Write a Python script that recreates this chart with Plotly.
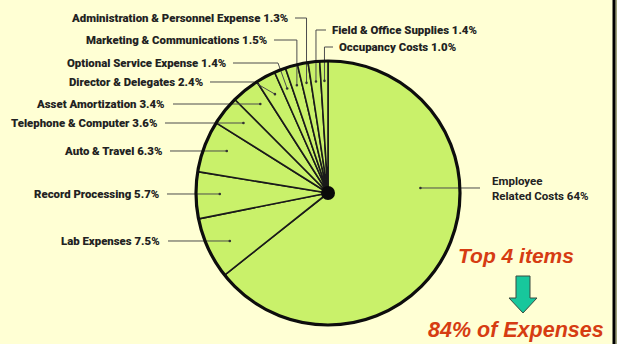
import math
import plotly.graph_objects as go

# ---------------- data ----------------
categories = ["Employee Related Costs", "Lab Expenses", "Record Processing", "Auto & Travel",
              "Telephone & Computer", "Asset Amortization", "Director & Delegates",
              "Optional Service Expense", "Marketing & Communications",
              "Administration & Personnel Expense", "Field & Office Supplies", "Occupancy Costs"]
shares = [64, 7.5, 5.7, 6.3, 3.6, 3.4, 2.4, 1.4, 1.5, 1.3, 1.4, 1.0]
share_text = ["64%", "7.5%", "5.7%", "6.3%", "3.6%", "3.4%", "2.4%", "1.4%", "1.5%", "1.3%", "1.4%", "1.0%"]
callout_top = "Top 4 items"
callout_bottom = "84% of Expenses"

# ---------------- layout (pixels) ----------------
W, H = 617, 344
CX, CY, R = 328, 193, 132
# label placement: (mode, anchor_x, anchor_y, elbow_x)
label_layout = [
    ("emp", 490, 188, None),
    ("left", 162, 241, None),
    ("left", 161, 194, None),
    ("left", 164, 151, None),
    ("left", 159, 123, None),
    ("left", 167, 104, None),
    ("elbow", 205, 82, 254),
    ("elbow", 228, 63, 278),
    ("up", 269, 40, None),
    ("up", 290, 18, None),
    ("upright", 330, 30, None),
    ("upright", 337, 47, None),
]

BG = "#FFFFD4"
GREEN = "#C9F16A"
TXT = "#222222"
FONT = "Roboto, Liberation Sans, sans-serif"


def px(x):
    return x / W


def py(y):
    return 1 - y / H


fig = go.Figure()
fig.add_trace(go.Pie(
    labels=categories, values=shares, sort=False, direction="clockwise", rotation=0,
    textinfo="none", hoverinfo="skip", showlegend=False,
    marker=dict(colors=[GREEN] * len(shares), line=dict(color="#1a1a1a", width=1.6)),
    domain=dict(x=[px(CX - R), px(CX + R)], y=[py(CY + R), py(CY - R)]),
))

shapes = []
annotations = []
total = sum(shares)
cum = 0.0
for i, v in enumerate(shares):
    mid = (cum + v / 2) / total * 2 * math.pi
    cum += v
    mode, ax, ay, ex = label_layout[i]
    rr = (0.82 if mode == "left" else 0.85) * R
    dx = CX + rr * math.sin(mid)
    dy = CY - rr * math.cos(mid)
    if mode == "emp":
        dx, dy = CX + 0.70 * R, ay
        pts = [(dx, dy), (ax - 10, ay)]
        annotations.append(dict(x=px(ax), y=py(ay), xref="paper", yref="paper", xanchor="left",
                                yanchor="middle", align="left", showarrow=False,
                                text="Employee<br>Related Costs " + share_text[i],
                                font=dict(family=FONT, size=11.5, color=TXT, weight=700)))
    else:
        if mode == "left":
            dy = ay
            pts = [(dx, dy), (ax + 6, ay)]
        elif mode == "elbow":
            pts = [(dx, dy), (ex, ay), (ax + 5, ay)]
        elif mode == "up":
            pts = [(dx, dy), (dx, ay), (ax + 5, ay)]
        else:
            pts = [(dx, dy), (dx, ay), (ax - 4, ay)]
        right = mode != "upright"
        annotations.append(dict(x=px(ax), y=py(ay), xref="paper", yref="paper",
                                xanchor="right" if right else "left", yanchor="middle",
                                showarrow=False,
                                text=categories[i] + " " + share_text[i],
                                font=dict(family=FONT, size=11.4, color=TXT, weight=900)))
    path = "M " + " L ".join(f"{px(x):.5f},{py(y):.5f}" for x, y in pts)
    shapes.append(dict(type="path", path=path, xref="paper", yref="paper",
                       line=dict(color="#4d4d4d", width=1)))
    shapes.append(dict(type="circle", xref="paper", yref="paper",
                       x0=px(dx - 1.3), x1=px(dx + 1.3), y0=py(dy + 1.3), y1=py(dy - 1.3),
                       fillcolor="#333333", line=dict(width=0)))

# thick outer rim and centre hub
shapes.append(dict(type="circle", xref="paper", yref="paper",
                   x0=px(CX - R), x1=px(CX + R), y0=py(CY + R), y1=py(CY - R),
                   line=dict(color="#0d0d0d", width=3.2), fillcolor="rgba(0,0,0,0)"))
shapes.append(dict(type="circle", xref="paper", yref="paper",
                   x0=px(CX - 7), x1=px(CX + 7), y0=py(CY + 7), y1=py(CY - 7),
                   line=dict(width=0), fillcolor="#0a0a0a"))

# green down arrow
ar = [(516, 276), (530, 276), (530, 298), (537, 298), (523, 313), (509, 298), (516, 298)]
shapes.append(dict(type="path", xref="paper", yref="paper",
                   path="M " + " L ".join(f"{px(x):.5f},{py(y):.5f}" for x, y in ar) + " Z",
                   fillcolor="#17C79C", line=dict(color="#3a4a40", width=1)))

# right frame edge
shapes.append(dict(type="rect", xref="paper", yref="paper", x0=px(615.5), x1=1, y0=0, y1=1,
                   fillcolor="#9FA27C", line=dict(width=0)))
shapes.append(dict(type="line", xref="paper", yref="paper", x0=px(614), x1=px(614), y0=0, y1=1,
                   line=dict(color="#000000", width=3)))

annotations.append(dict(x=px(516), y=py(255), xref="paper", yref="paper", showarrow=False,
                        xanchor="center", yanchor="middle",
                        text="<b><i>" + callout_top + "</i></b>",
                        font=dict(family="Liberation Sans, Arial, sans-serif", size=21, color="#D63C12")))
annotations.append(dict(x=px(516), y=py(330), xref="paper", yref="paper", showarrow=False,
                        xanchor="center", yanchor="middle",
                        text="<b><i>" + callout_bottom + "</i></b>",
                        font=dict(family="Liberation Sans, Arial, sans-serif", size=21.5, color="#D63C12")))

fig.update_layout(width=W, height=H, margin=dict(l=0, r=0, t=0, b=0),
                  paper_bgcolor=BG, plot_bgcolor=BG, shapes=shapes, annotations=annotations)
fig.write_html("out.html")
